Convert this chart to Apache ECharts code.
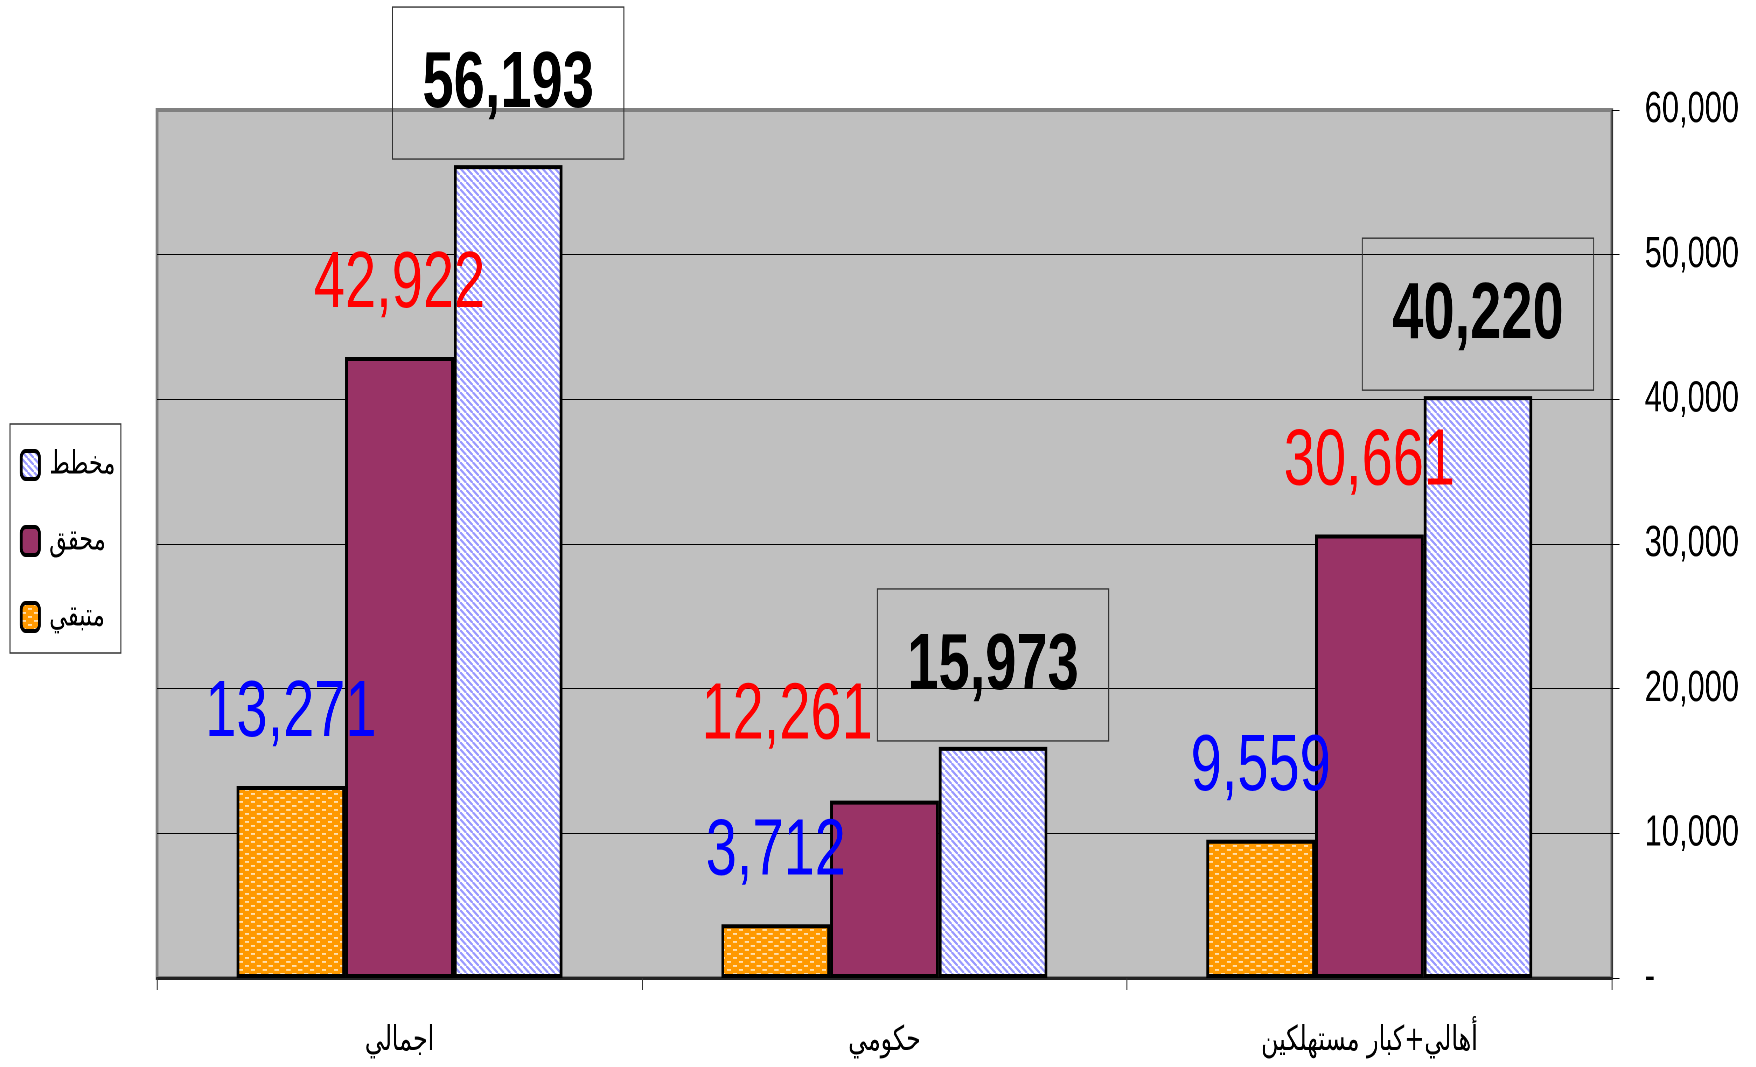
<!DOCTYPE html>
<html lang="ar">
<head>
<meta charset="utf-8">
<title>chart</title>
<script src="https://cdn.jsdelivr.net/npm/echarts@6/dist/echarts.min.js"></script>
<style>
html,body{margin:0;padding:0;background:#fff;overflow:hidden;width:1756px;height:1067px}
#wrap{width:1756px;height:1067px;overflow:hidden;position:relative}
#main{position:absolute;left:0;top:0;height:1067px;transform-origin:0 0}
</style>
</head>
<body>
<div id="wrap"><div id="main"></div></div>
<script>
// Data
const categories = ['اجمالي', 'حكومي', 'أهالي+كبار مستهلكين'];
const remaining = [13271, 3712, 9559];
const achieved = [42922, 12261, 30661];
const planned = [56193, 15973, 40220];
const seriesNames = ['متبقي', 'محقق', 'مخطط'];
const legendOrder = ['مخطط', 'محقق', 'متبقي'];

// The original text is condensed horizontally, so the drawing is made wider and squeezed.
const SQUEEZE = 0.70;
const W = 1756 / SQUEEZE, H = 1067;
const main = document.getElementById('main');
main.style.width = W + 'px';
main.style.transform = 'scaleX(' + SQUEEZE + ')';

function tile(w, h, draw) {
  const c = document.createElement('canvas');
  c.width = w * 4; c.height = h * 4;
  const g = c.getContext('2d');
  g.scale(4, 4);
  draw(g, w, h);
  return { image: c, repeat: 'repeat', scaleX: 0.25, scaleY: 0.25 };
}
const orangeFill = tile(17, 8, (g, w, h) => {
  g.fillStyle = '#FF9900'; g.fillRect(0, 0, w, h);
  g.fillStyle = '#FFF2DC';
  g.fillRect(1, 1.2, 6, 1.5);
  g.fillRect(9.5, 5.2, 6, 1.5);
});
const blueFill = tile(9, 7, (g, w, h) => {
  g.fillStyle = '#FFFFFF'; g.fillRect(0, 0, w, h);
  g.strokeStyle = '#9999FF'; g.lineWidth = 2.6;
  [-w, 0, w].forEach(dx => {
    g.beginPath(); g.moveTo(dx, 0); g.lineTo(dx + w, h); g.stroke();
  });
});

const fmt = v => Number(v).toLocaleString('en-US');
const NARROW = '"Liberation Sans Narrow","Liberation Sans",sans-serif';
const ARABIC = '"DejaVu Sans",sans-serif';

const valueLabel = (color, bold) => ({
  show: true, position: 'top', distance: 32,
  color, fontFamily: NARROW, fontSize: 80, fontWeight: bold ? 'bold' : 'normal',
  formatter: p => fmt(p.value)
});
const barStyle = color => ({ color, borderColor: '#000', borderWidth: 4 });

const chart = echarts.init(main, null, { renderer: 'canvas', devicePixelRatio: 2, width: W, height: H });
chart.setOption({
  animation: false,
  backgroundColor: '#fff',
  grid: {
    outerBoundsMode: 'none',
    left: 157 / SQUEEZE, right: (1756 - 1611.5) / SQUEEZE, top: 110, bottom: 1067 - 978,
    show: true, backgroundColor: '#C0C0C0', borderColor: '#808080', borderWidth: 4
  },
  legend: {
    data: legendOrder, orient: 'vertical',
    left: 10 / SQUEEZE, top: 424,
    padding: [25, 8, 20, 14],
    itemWidth: 26, itemHeight: 28, itemGap: 44,
    backgroundColor: '#fff', borderColor: '#333', borderWidth: 1.4,
    itemStyle: { borderColor: '#000', borderWidth: 4 },
    textStyle: { fontFamily: ARABIC, fontSize: 32, lineHeight: 28, color: '#000', padding: [0, 0, 0, 9] }
  },
  xAxis: {
    type: 'category', data: categories,
    axisLine: { lineStyle: { color: '#222', width: 3 } },
    axisTick: { show: true, length: 12, lineStyle: { color: '#333', width: 1.4 } },
    axisLabel: { color: '#000', fontFamily: ARABIC, fontSize: 34, margin: 46 }
  },
  yAxis: {
    type: 'value', position: 'right', min: 0, max: 60000, interval: 10000,
    axisLine: { show: true, lineStyle: { color: '#000', width: 1.4 } },
    axisTick: { show: true, length: 11, lineStyle: { color: '#000', width: 1 } },
    splitLine: { show: true, showMinLine: false, showMaxLine: false, lineStyle: { color: '#000', width: 1 } },
    axisLabel: {
      color: '#000', fontFamily: NARROW, fontSize: 44, margin: 47, align: 'left',
      padding: [0, 0, 8, 0],
      formatter: v => v === 0 ? '-' : fmt(v)
    }
  },
  series: [
    {
      name: seriesNames[0], type: 'bar', barWidth: '22.4%', barGap: 0,
      data: remaining, itemStyle: barStyle(orangeFill), label: valueLabel('#0000FF', false)
    },
    {
      name: seriesNames[1], type: 'bar', barWidth: '22.4%', barGap: 0,
      data: achieved.map((v, i) => i === 1
        ? { value: v, label: { offset: [-139, -12] } } : v),
      itemStyle: barStyle('#993366'), label: valueLabel('#FF0000', false)
    },
    {
      name: seriesNames[2], type: 'bar', barWidth: '22.4%', barGap: 0,
      data: planned, itemStyle: barStyle(blueFill),
      label: Object.assign(valueLabel('#000', true), {
        distance: 6, borderColor: '#333', borderWidth: 1.4,
        lineHeight: 90, padding: [33, 43, 29, 43]
      })
    }
  ]
});
</script>
</body>
</html>
